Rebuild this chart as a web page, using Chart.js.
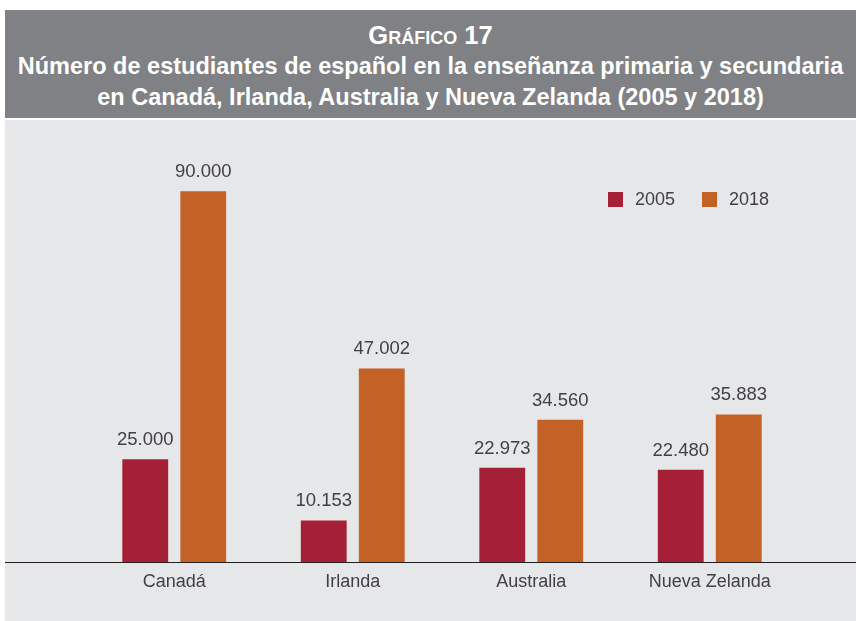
<!DOCTYPE html>
<html lang="es">
<head>
<meta charset="UTF-8">
<title>Gráfico 17</title>
<script src="https://cdn.jsdelivr.net/npm/chart.js"></script>
<style>
  html, body { margin: 0; padding: 0; background: #ffffff; }
  body { width: 856px; height: 621px; position: relative; overflow: hidden;
         font-family: "Liberation Sans", Arial, sans-serif; }
  .header { position: absolute; left: 5px; top: 10px; width: 851px; height: 108px;
            background: #808184; color: #ffffff; text-align: center;
            font-weight: bold; font-size: 23.5px; line-height: 31px; padding-top: 10px;
            box-sizing: border-box; }
  .header .num { font-variant: small-caps; font-size: 25.5px; }
  .panel { position: absolute; left: 5px; top: 120px; width: 851px; height: 501px;
           background: #e6e7e8; }
</style>
</head>
<body>
<div class="header">
  <div class="num">Gráfico 17</div>
  <div>Número de estudiantes de español en la enseñanza primaria y secundaria</div>
  <div>en Canadá, Irlanda, Australia y Nueva Zelanda (2005 y 2018)</div>
</div>
<div class="panel">
  <canvas id="chart" width="851" height="501"></canvas>
</div>
<script>
const countries = ["Canadá", "Irlanda", "Australia", "Nueva Zelanda"];
const years = ["2005", "2018"];
const values2005 = [25000, 10153, 22973, 22480];
const values2018 = [90000, 47002, 34560, 35883];

const textColor = "#414143";
const fontFamily = "'Liberation Sans', Arial, sans-serif";

// numbers like 90.000
function fmt(v) {
  return v.toLocaleString("de-DE");
}

// value labels above each bar
const barLabels = {
  id: "barLabels",
  afterDatasetsDraw(chart) {
    const ctx = chart.ctx;
    ctx.save();
    ctx.font = "18.5px " + fontFamily;
    ctx.fillStyle = textColor;
    ctx.textAlign = "center";
    ctx.textBaseline = "bottom";
    chart.data.datasets.forEach((ds, i) => {
      chart.getDatasetMeta(i).data.forEach((bar, j) => {
        ctx.fillText(fmt(ds.data[j]), bar.x, bar.y - 10);
      });
    });
    ctx.restore();
  }
};

// baseline across the whole panel
const baseLine = {
  id: "baseLine",
  afterDatasetsDraw(chart) {
    const y = Math.round(chart.scales.y.getPixelForValue(0)) + 0.5;
    const ctx = chart.ctx;
    ctx.save();
    ctx.strokeStyle = "#231f20";
    ctx.lineWidth = 1.2;
    ctx.beginPath();
    ctx.moveTo(0, y);
    ctx.lineTo(chart.width, y);
    ctx.stroke();
    ctx.restore();
  }
};

// legend in the upper right of the plot
const cornerLegend = {
  id: "cornerLegend",
  afterDraw(chart) {
    const ctx = chart.ctx;
    const top = 72;
    const starts = [603, 697];
    ctx.save();
    ctx.font = "18px " + fontFamily;
    ctx.textBaseline = "middle";
    ctx.textAlign = "left";
    chart.data.datasets.forEach((ds, i) => {
      ctx.fillStyle = ds.backgroundColor;
      ctx.fillRect(starts[i], top, 15, 15);
      ctx.fillStyle = textColor;
      ctx.fillText(ds.label, starts[i] + 27, top + 8);
    });
    ctx.restore();
  }
};

new Chart(document.getElementById("chart"), {
  type: "bar",
  data: {
    labels: countries,
    datasets: [
      { label: years[0], data: values2005, backgroundColor: "#a51f36" },
      { label: years[1], data: values2018, backgroundColor: "#c36127" }
    ]
  },
  options: {
    responsive: false,
    animation: false,
    categoryPercentage: 0.65,
    barPercentage: 0.79,
    layout: { padding: { top: 30, left: 80, right: 57, bottom: 19 } },
    plugins: {
      tooltip: { enabled: false },
      legend: { display: false }
    },
    scales: {
      x: {
        grid: { display: false, drawTicks: false },
        border: { display: false },
        ticks: {
          color: textColor,
          padding: 9,
          font: { size: 18, family: fontFamily }
        }
      },
      y: {
        display: false,
        min: 0,
        max: 100000
      }
    }
  },
  plugins: [barLabels, baseLine, cornerLegend]
});
</script>
</body>
</html>
